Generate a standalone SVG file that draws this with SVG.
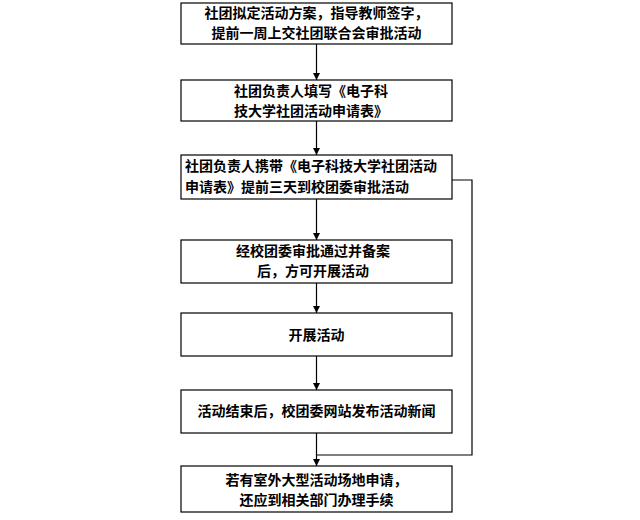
<svg xmlns="http://www.w3.org/2000/svg" width="640" height="520" viewBox="0 0 640 520">
<defs>
<marker id="arr" viewBox="0 0 10 10" refX="10" refY="5" markerWidth="7" markerHeight="7" orient="auto" markerUnits="userSpaceOnUse">
<path d="M0,0 L10,5 L0,10 z" fill="#000"/>
</marker>
<style>
.box{fill:#fff;stroke:#000;stroke-width:1.2}
.t{font-family:"Noto Sans CJK SC","Noto Sans",sans-serif;font-size:14px;font-weight:bold;fill:#000}
.c{text-anchor:middle}
.ln{fill:none;stroke:#000;stroke-width:1.2}
</style>
</defs>
<rect width="640" height="520" fill="#fff"/>
<g id="connectors">
<line class="ln" x1="316.5" y1="44" x2="316.5" y2="80" marker-end="url(#arr)"/>
<line class="ln" x1="316.5" y1="121" x2="316.5" y2="155" marker-end="url(#arr)"/>
<line class="ln" x1="316.5" y1="199" x2="316.5" y2="240" marker-end="url(#arr)"/>
<line class="ln" x1="316.5" y1="283" x2="316.5" y2="313" marker-end="url(#arr)"/>
<line class="ln" x1="316.5" y1="356" x2="316.5" y2="390" marker-end="url(#arr)"/>
<polyline class="ln" points="452,180 472,180 472,455 316.5,455 316.5,466" marker-end="url(#arr)"/>
<line class="ln" x1="316.5" y1="433" x2="316.5" y2="455"/>
</g>
<g id="n1"><rect class="box" x="181" y="3" width="271" height="41"/>
<text class="t c" x="316.5" y="18">社团拟定活动方案，指导教师签字，</text>
<text class="t c" x="316.5" y="38">提前一周上交社团联合会审批活动</text></g>
<g id="n2"><rect class="box" x="181" y="80" width="271" height="41"/>
<text class="t" x="234" y="96">社团负责人填写《电子科</text>
<text class="t" x="234" y="116">技大学社团活动申请表》</text></g>
<g id="n3"><rect class="box" x="181" y="155" width="271" height="44"/>
<text class="t" x="185" y="171">社团负责人携带《电子科技大学社团活动</text>
<text class="t" x="185" y="192">申请表》提前三天到校团委审批活动</text></g>
<g id="n4"><rect class="box" x="181" y="240" width="271" height="43"/>
<text class="t" x="236" y="256">经校团委审批通过并备案</text>
<text class="t" x="257" y="276">后，方可开展活动</text></g>
<g id="n5"><rect class="box" x="181" y="313" width="271" height="43"/>
<text class="t c" x="316.5" y="340">开展活动</text></g>
<g id="n6"><rect class="box" x="181" y="390" width="271" height="43"/>
<text class="t c" x="316.5" y="416">活动结束后，校团委网站发布活动新闻</text></g>
<g id="n7"><rect class="box" x="181" y="466" width="271" height="46"/>
<text class="t c" x="316.5" y="485">若有室外大型活动场地申请，</text>
<text class="t c" x="316.5" y="505">还应到相关部门办理手续</text></g>
</svg>
